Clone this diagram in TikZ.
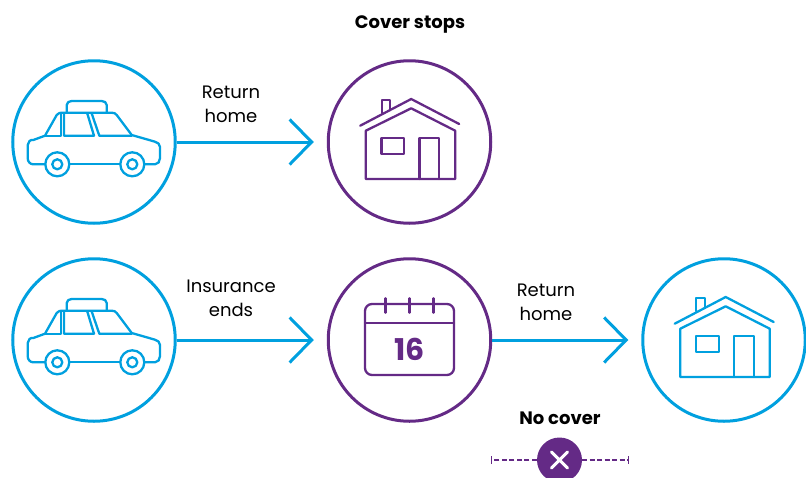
\documentclass[tikz,border=0pt]{standalone}
\usepackage{fontspec}
\setmainfont{Poppins}
\usetikzlibrary{arrows.meta}
\definecolor{skyblue}{RGB}{0,160,223}
\definecolor{plum}{RGB}{100,42,134}
\tikzset{
  % circles round the icons
  bluering/.style={circle,draw=skyblue,line width=3pt,inner sep=0pt,minimum size=162.5pt},
  plumring/.style={circle,draw=plum,line width=3pt,inner sep=0pt,minimum size=162.5pt},
  % connectors
  flow/.style={draw=skyblue,line width=3pt,shorten >=13pt,-{Straight Barb[length=22pt,width=45pt,line width=3pt]}},
  nocover/.style={draw=plum,line width=1.3pt,dash pattern=on 5pt off 2.5pt,-{Bar[width=8pt,line width=1.3pt]}},
  % texts
  caption/.style={font=\fontsize{18}{24}\selectfont,align=center,inner sep=0pt},
  heading/.style={font=\fontsize{18}{24}\selectfont\bfseries,inner sep=0pt},
  icon/.style={line width=2.3pt,line join=round,line cap=round},
  % icons, drawn round (0,0) of the ring
  car/.pic={
    \draw[icon] (-49,22.3) -- (-60.7,22.3) to[out=180,in=-90] (-66.3,16.3) -- (-66.3,3)
      to[out=90,in=165] (-60.7,-2) -- (-49,-6.3) -- (-37.3,-27) to[out=60,in=180] (-30.7,-29.3)
      -- (17.7,-29.3) to[out=0,in=125] (22.7,-27) -- (37.7,-7) -- (61,-0.3)
      to[out=-15,in=90] (66,5) -- (66,16.3) to[out=-90,in=0] (61,22.3) -- (51,22.3);
    \draw[icon] (-24.5,22.3) -- (26,22.3);
    \draw[icon] (-27.3,-29.3) -- (-27.3,-37) to[out=90,in=180] (-22.3,-41) -- (7.7,-41)
      to[out=0,in=90] (12.7,-37) -- (12.7,-29.3);
    \draw[icon] (-49,-6.3) -- (-33,-6.3) -- (-33,-28.5);
    \draw[icon] (-30,-28.5) -- (-30,-6.3) -- (0,-6.3) -- (-6.7,-28.5);
    \draw[icon] (-2.3,-28.5) -- (5.3,-6.3) -- (37.7,-6.3);
    \foreach \wheelx in {-36.7,38.3} {
      \draw[icon] (\wheelx,22.3) circle (12);
      \draw[icon] (\wheelx,22.3) circle (5);
    }
  },
  home/.pic={
    \draw[icon] (-49.3,-16.3) -- (1.7,-43) -- (49.7,-18);
    \draw[icon] (-43.7,37) -- (-43.7,-11.3) -- (1.7,-33.7) -- (45.7,-11.3) -- (45.7,37) -- cycle;
    \draw[icon] (-27.7,-29) -- (-27.7,-42) -- (-19.3,-42) -- (-19.3,-33.5);
    \draw[icon] (-28,-4.3) rectangle (-5.3,12.3);
    \draw[icon] (10,37) -- (10,-4.3) -- (29.7,-4.3) -- (29.7,37);
  },
  calendar/.pic={
    \draw[icon,rounded corners=7pt] (-44.5,-36) rectangle (44.5,35);
    \draw[icon] (-44.5,-17.3) -- (44.5,-17.3);
    \foreach \tickx in {-24,0,24} {
      \draw[icon] (\tickx,-41.7) -- (\tickx,-27.3);
    }
    \node[plum,font=\fontsize{30}{30}\selectfont\bfseries,inner sep=0pt] (day) at (0,9.5) {16};
  },
}
\begin{document}
\begin{tikzpicture}[x=1pt,y=-1pt]
  \useasboundingbox (0,0) rectangle (806,477);
  \node[bluering] (car1) at (94,142) {};
  \node[plumring] (house1) at (409.5,142) {};
  \node[bluering] (car2) at (94,340) {};
  \node[plumring] (date) at (409.5,340) {};
  \node[bluering] (house2) at (724,340) {};
  \pic[color=skyblue] at (car1) {car};
  \pic[color=plum] at (house1) {home};
  \pic[color=skyblue] at (car2) {car};
  \pic[color=plum] at (date) {calendar};
  \pic[color=skyblue] at (house2) {home};
  \draw[flow] (car1) -- (house1);
  \draw[flow] (car2) -- (date);
  \draw[flow] (date) -- (house2);
  \node[heading] (stops) at (410,24.5) {Cover stops};
  \node[caption] (return1) at (231,104) {Return\\home};
  \node[caption] (ends) at (231,298) {Insurance\\ends};
  \node[caption] (return2) at (546,302) {Return\\home};
  \node[heading] (none) at (560,418) {No cover};
  % bar below the last row
  \node[circle,fill=plum,inner sep=0pt,minimum size=45pt] (cross) at (559.5,460) {};
  \coordinate (barl) at (490.5,460);
  \coordinate (barr) at (629,460);
  \draw[nocover] (cross) -- (barl);
  \draw[nocover] (cross) -- (barr);
  \draw[white,line width=3pt,line cap=round] (cross.center) +(-8,-8) -- +(8,8) +(-8,8) -- +(8,-8);
\end{tikzpicture}
\end{document}
